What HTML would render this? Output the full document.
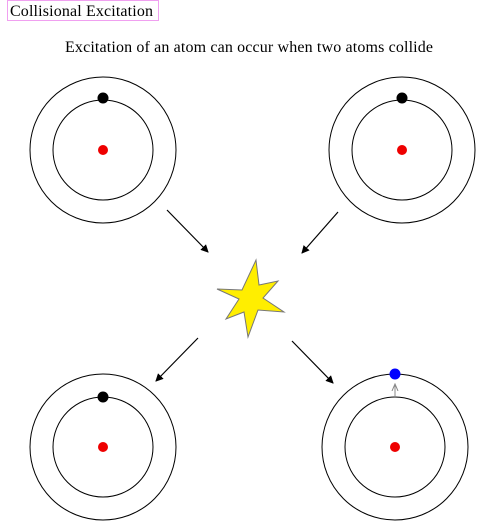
<!DOCTYPE html>
<html><head><meta charset="utf-8"><style>
html,body{margin:0;padding:0;background:#fff;width:486px;height:531px;overflow:hidden}
svg{display:block;font-family:"Liberation Serif",serif}
</style></head><body>
<svg width="486" height="531" viewBox="0 0 486 531">
<defs><marker id="ah" markerWidth="8" markerHeight="8" refX="7" refY="4" orient="auto" markerUnits="userSpaceOnUse" viewBox="0 0 8 8"><path d="M0,0 L8,4 L0,8 Z" fill="#000"/></marker>
<marker id="ah2" markerWidth="8" markerHeight="8" refX="7" refY="4" orient="auto" markerUnits="userSpaceOnUse" viewBox="0 0 8 8"><path d="M0,1 L7,4 L0,7" fill="none" stroke="#888"/></marker></defs>
<rect x="7.5" y="0.5" width="151" height="20" fill="none" stroke="#f0a0f0"/>
<text x="10" y="16" font-size="16" textLength="143">Collisional Excitation</text>
<text x="249" y="52" font-size="16" text-anchor="middle" textLength="368">Excitation of an atom can occur when two atoms collide</text>
<g fill="none" stroke="#000" stroke-width="1">
<circle cx="103" cy="150" r="73"/><circle cx="103" cy="150" r="50"/></g>
<circle cx="103" cy="98" r="5.5" fill="#000"/>
<circle cx="103" cy="150" r="5" fill="#e00"/>
<g fill="none" stroke="#000">
<circle cx="402" cy="150" r="73"/><circle cx="402" cy="150" r="50"/></g>
<circle cx="402" cy="98" r="5.5" fill="#000"/>
<circle cx="402" cy="150" r="5" fill="#e00"/>
<g fill="none" stroke="#000">
<circle cx="103" cy="447" r="73"/><circle cx="103" cy="447" r="50"/></g>
<circle cx="103" cy="397" r="5.5" fill="#000"/>
<circle cx="103" cy="447" r="5" fill="#e00"/>
<g fill="none" stroke="#000">
<circle cx="395" cy="447" r="73"/><circle cx="395" cy="447" r="50"/></g>
<circle cx="395" cy="374" r="5.5" fill="#00f"/>
<circle cx="395" cy="447" r="5" fill="#e00"/>
<line x1="395" y1="397" x2="395" y2="384" stroke="#888" marker-end="url(#ah2)"/>
<g stroke="#000" stroke-width="1.2">
<line x1="167" y1="210" x2="208" y2="252" marker-end="url(#ah)"/>
<line x1="338" y1="212" x2="302" y2="253" marker-end="url(#ah)"/>
<line x1="198" y1="338" x2="156" y2="381" marker-end="url(#ah)"/>
<line x1="292" y1="341" x2="333" y2="383" marker-end="url(#ah)"/>
</g>
<polygon points="256,260 259,285 278,281 263,298 284,312 258,310 248,337 244,312 226,319 239,299 217,289 242,290" fill="#ffee00" stroke="#777" stroke-width="1"/>
</svg>
</body></html>
